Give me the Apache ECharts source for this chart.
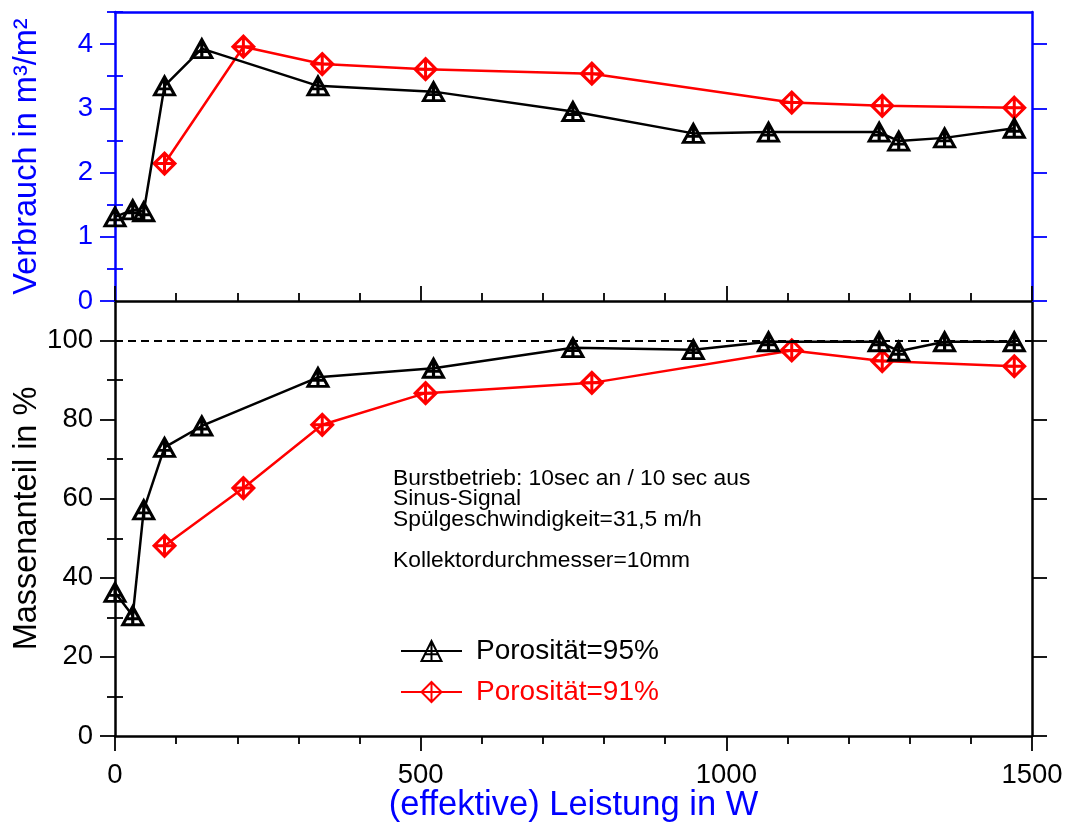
<!DOCTYPE html>
<html>
<head>
<meta charset="utf-8">
<script src="https://cdn.jsdelivr.net/npm/echarts@6/dist/echarts.min.js"></script>
<style>html,body{margin:0;padding:0;background:#fff}#chart{width:1068px;height:825px}</style>
</head>
<body>
<div id="chart"></div>
<script>
// ---- data ----
const seriesNames = ['Porosität=95%', 'Porosität=91%'];
const power95 = [0, 29, 47, 81, 142, 332, 521, 749, 946, 1069, 1250, 1282, 1357, 1471];
const verbrauch95 = [1.31, 1.42, 1.39, 3.35, 3.93, 3.35, 3.26, 2.95, 2.61, 2.63, 2.63, 2.49, 2.54, 2.69];
const masse95 = [36.3, 30.4, 57.2, 73.0, 78.4, 90.7, 93.0, 98.2, 97.7, 99.7, 99.7, 97.3, 99.7, 99.7];
const power91 = [81, 210, 339, 508, 780, 1107, 1255, 1471];
const verbrauch91 = [2.14, 3.96, 3.69, 3.61, 3.54, 3.09, 3.04, 3.01];
const masse91 = [48.1, 62.7, 78.7, 86.7, 89.3, 97.5, 94.8, 93.5];
const refLine = 100;

const xMajorTicks = [0, 500, 1000, 1500];
const xMinorTicks = [100, 200, 300, 400, 600, 700, 800, 900, 1100, 1200, 1300, 1400];
const vMajorTicks = [0, 1, 2, 3, 4];
const vMinorTicks = [0.5, 1.5, 2.5, 3.5, 4.5];
const mMajorTicks = [0, 20, 40, 60, 80, 100];
const mMinorTicks = [10, 30, 50, 70, 90];

const annotationLines = [
  'Burstbetrieb: 10sec an / 10 sec aus',
  'Sinus-Signal',
  'Spülgeschwindigkeit=31,5 m/h',
  '',
  'Kollektordurchmesser=10mm'
];

// ---- styling ----
const FONT = '"Liberation Sans", Arial, Helvetica, sans-serif';
const BLUE = '#0000ff', RED = '#ff0000', BLACK = '#000000';
const triPath = 'path://M0,18 L10,0 L20,18 Z M10,0 L10,18 M3.3,12 L16.7,12';
const diaPath = 'path://M10,0 L20,10 L10,20 L0,10 Z M10,0 L10,20 M0,10 L20,10';
const fmt = v => String(v);

const pair = (xs, ys) => xs.map((x, i) => [x, ys[i]]);

function yAx(grid, pos, min, max, color, ticks, len, labels, extra) {
  return Object.assign({
    type: 'value', gridIndex: grid, position: pos, min: min, max: max,
    axisLine: { show: true, onZero: false, lineStyle: { color: color, width: 2.5 } },
    axisTick: { show: true, inside: false, length: len, customValues: ticks, lineStyle: { color: color, width: 1.8 } },
    axisLabel: labels ? { show: true, customValues: ticks, formatter: fmt, color: color, fontSize: 27.5, fontFamily: FONT, margin: 22 } : { show: false },
    splitLine: { show: false }
  }, extra || {});
}
function xAx(grid, pos, color, ticks, len, inside, labels, extra) {
  return Object.assign({
    type: 'value', gridIndex: grid, position: pos, min: 0, max: 1500,
    axisLine: { show: true, onZero: false, lineStyle: { color: color, width: 2.5 } },
    axisTick: ticks ? { show: true, inside: inside, length: len, customValues: ticks, lineStyle: { color: color, width: 1.8 } } : { show: false },
    axisLabel: labels ? { show: true, customValues: ticks, formatter: fmt, color: color, fontSize: 27.5, fontFamily: FONT, margin: 25 } : { show: false },
    splitLine: { show: false }
  }, extra || {});
}

const chart = echarts.init(document.getElementById('chart'), null, { renderer: 'canvas' });
chart.setOption({
  backgroundColor: '#fff',
  animation: false,
  textStyle: { fontFamily: FONT },
  grid: [
    { left: 115, right: 36, top: 12, height: 289, containLabel: false, outerBoundsMode: 'none' },
    { left: 115, right: 36, top: 301, height: 435, containLabel: false, outerBoundsMode: 'none' }
  ],
  xAxis: [
    xAx(0, 'bottom', BLACK, xMinorTicks, 8, true, false),
    xAx(0, 'bottom', BLACK, xMajorTicks, 15, true, false, { axisLine: { show: false } }),
    xAx(0, 'top', BLUE, null, 0, false, false),
    xAx(1, 'bottom', BLACK, xMajorTicks, 15, false, true, {
      name: '(effektive) Leistung in W', nameLocation: 'middle', nameGap: 52, nameMoveOverlap: false,
      nameTextStyle: { color: BLUE, fontSize: 34.5, fontFamily: FONT }
    }),
    xAx(1, 'bottom', BLACK, xMinorTicks, 8, false, false, { axisLine: { show: false } })
  ],
  yAxis: [
    yAx(0, 'left', 0, 4.5, BLUE, vMajorTicks, 15, true, {
      name: 'Verbrauch in m³/m²', nameLocation: 'middle', nameGap: 71, nameMoveOverlap: false,
      nameTextStyle: { color: BLUE, fontSize: 32.5, fontFamily: FONT }
    }),
    yAx(0, 'left', 0, 4.5, BLUE, vMinorTicks, 8, false, { axisLine: { show: false } }),
    yAx(0, 'right', 0, 4.5, BLUE, vMajorTicks, 15, false),
    yAx(0, 'right', 0, 4.5, BLUE, vMinorTicks, 8, false, { axisLine: { show: false } }),
    yAx(1, 'left', 0, 110, BLACK, mMajorTicks, 15, true, {
      name: 'Massenanteil in %', nameLocation: 'middle', nameGap: 71, nameMoveOverlap: false,
      nameTextStyle: { color: BLACK, fontSize: 32.5, fontFamily: FONT }
    }),
    yAx(1, 'left', 0, 110, BLACK, mMinorTicks, 8, false, { axisLine: { show: false } }),
    yAx(1, 'right', 0, 110, BLACK, mMajorTicks, 15, false),
    yAx(1, 'right', 0, 110, BLACK, mMinorTicks, 8, false, { axisLine: { show: false } })
  ],
  legend: {
    show: true, orient: 'vertical', left: 395, top: 632,
    itemWidth: 61, itemHeight: 25, itemGap: 13,
    textStyle: { fontSize: 28, fontFamily: FONT, padding: [0, 0, 0, 9] },
    data: [
      { name: seriesNames[0], textStyle: { color: BLACK } },
      { name: seriesNames[1], textStyle: { color: RED } }
    ]
  },
  graphic: [{
    type: 'text', left: 393, top: 467, silent: true,
    style: { text: annotationLines.join('\n'), fill: BLACK, font: '22.8px ' + FONT, lineHeight: 20.5 }
  }],
  series: [
    {
      name: seriesNames[0], type: 'line', xAxisIndex: 0, yAxisIndex: 0,
      data: pair(power95, verbrauch95),
      symbol: triPath, symbolSize: [20, 18],
      lineStyle: { color: BLACK, width: 2.5 },
      itemStyle: { color: 'rgba(0,0,0,0)', borderColor: BLACK, borderWidth: 3 },
      z: 5
    },
    {
      name: seriesNames[1], type: 'line', xAxisIndex: 0, yAxisIndex: 0,
      data: pair(power91, verbrauch91),
      symbol: diaPath, symbolSize: 21,
      lineStyle: { color: RED, width: 2.5 },
      itemStyle: { color: 'rgba(0,0,0,0)', borderColor: RED, borderWidth: 3 },
      z: 4
    },
    {
      name: seriesNames[0], type: 'line', xAxisIndex: 3, yAxisIndex: 4,
      data: pair(power95, masse95),
      symbol: triPath, symbolSize: [20, 18],
      lineStyle: { color: BLACK, width: 2.5 },
      itemStyle: { color: 'rgba(0,0,0,0)', borderColor: BLACK, borderWidth: 3 },
      markLine: {
        silent: true, symbol: 'none', label: { show: false },
        lineStyle: { color: BLACK, type: [8, 5], width: 2 },
        data: [{ yAxis: refLine }]
      },
      z: 5
    },
    {
      name: seriesNames[1], type: 'line', xAxisIndex: 3, yAxisIndex: 4,
      data: pair(power91, masse91),
      symbol: diaPath, symbolSize: 21,
      lineStyle: { color: RED, width: 2.5 },
      itemStyle: { color: 'rgba(0,0,0,0)', borderColor: RED, borderWidth: 3 },
      z: 4
    }
  ]
});
</script>
</body>
</html>
